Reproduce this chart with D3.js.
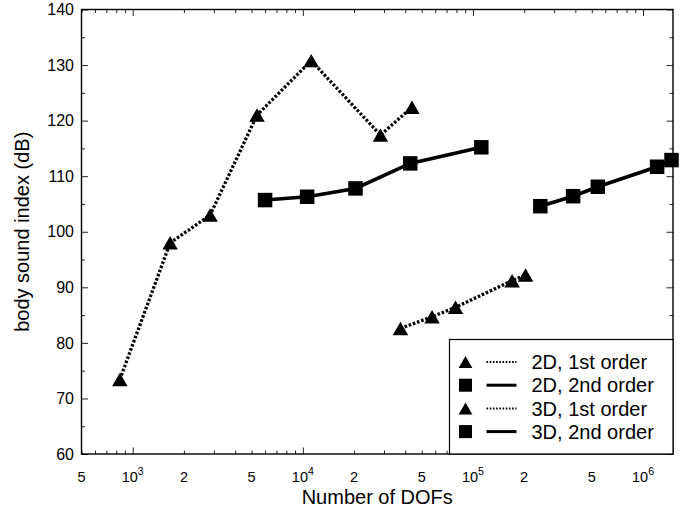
<!DOCTYPE html>
<html>
<head>
<meta charset="utf-8">
<script src="https://cdn.jsdelivr.net/npm/d3@7"></script>
<style>
  body { margin: 0; background: #fff; }
  svg text { font-family: "Liberation Sans", Arial, Helvetica, sans-serif; fill: #000; }
</style>
</head>
<body>
<div id="chart"></div>
<script>
// values
var dofs2D1 = [840, 1660, 2850, 5380, 11200, 28600, 43800];
var bsi2D1 = [73.4, 98.0, 103.0, 121.0, 130.8, 117.4, 122.4];

var dofs2D2 = [6000, 10600, 20400, 42800, 112000];
var bsi2D2 = [105.7, 106.3, 107.8, 112.3, 115.2];

var dofs3D1 = [37500, 57500, 79000, 170000, 204000];
var bsi3D1 = [82.6, 84.7, 86.4, 91.2, 92.2];

var dofs3D2 = [249000, 388000, 542000, 1210000, 1470000];
var bsi3D2 = [104.6, 106.4, 108.1, 111.7, 112.9];

var seriesNames = ["2D, 1st order", "2D, 2nd order", "3D, 1st order", "3D, 2nd order"];
var xTickLabels = [500, 1000, 2000, 5000, 10000, 20000, 50000, 100000, 200000, 500000, 1000000];
var yTickValues = [60, 70, 80, 90, 100, 110, 120, 130, 140];

var width = 682;
var height = 514;
var margin = {
    left: 81.5,
    right: 9,
    top: 9.5,
    bottom: 60
};
var innerW = width - margin.left - margin.right;
var innerH = height - margin.top - margin.bottom;

var xScale = d3.scaleLog()
    .domain([500, 1.5e6])
    .range([0, innerW]);
var yScale = d3.scaleLinear()
    .domain([60, 140])
    .range([innerH, 0]);

// triangle centred on its bounding box, like the plotting package does
var boxTriangle = {
    draw: function (context, size) {
        var s = Math.sqrt(size);
        var h = s * 0.87;
        context.moveTo(0, -h / 2);
        context.lineTo(s / 2, h / 2);
        context.lineTo(-s / 2, h / 2);
        context.closePath();
    }
};

var series = [
    { name: seriesNames[0], xs: dofs2D1, ys: bsi2D1, marker: boxTriangle, size: 240, dotted: true },
    { name: seriesNames[1], xs: dofs2D2, ys: bsi2D2, marker: d3.symbolSquare, size: 210, dotted: false },
    { name: seriesNames[2], xs: dofs3D1, ys: bsi3D1, marker: boxTriangle, size: 240, dotted: true },
    { name: seriesNames[3], xs: dofs3D2, ys: bsi3D2, marker: d3.symbolSquare, size: 210, dotted: false }
];

var svg = d3.select("#chart").append("svg")
    .attr("width", width)
    .attr("height", height);

var chartGroup = svg.append("g")
    .attr("transform", "translate(" + margin.left + "," + margin.top + ")");

// minor ticks
var xMinor = [];
[100, 1000, 10000, 100000, 1000000].forEach(function (dec) {
    for (var k = 2; k <= 9; k++) {
        var v = k * dec;
        if (v >= 500 && v <= 1.5e6) xMinor.push(v);
    }
});
var yMinor = d3.range(65, 140, 10);

function noLabel() { return ""; }

chartGroup.append("g")
    .attr("class", "axis x minor")
    .attr("transform", "translate(0," + innerH + ")")
    .call(d3.axisBottom(xScale).tickValues(xMinor).tickSize(-3.5).tickSizeOuter(0).tickFormat(noLabel));
chartGroup.append("g")
    .attr("class", "axis x minor top")
    .call(d3.axisTop(xScale).tickValues(xMinor).tickSize(-3.5).tickSizeOuter(0).tickFormat(noLabel));
chartGroup.append("g")
    .attr("class", "axis y minor")
    .call(d3.axisLeft(yScale).tickValues(yMinor).tickSize(-3.5).tickSizeOuter(0).tickFormat(noLabel));
chartGroup.append("g")
    .attr("class", "axis y minor right")
    .attr("transform", "translate(" + innerW + ",0)")
    .call(d3.axisRight(yScale).tickValues(yMinor).tickSize(-3.5).tickSizeOuter(0).tickFormat(noLabel));

// major ticks + labels
var xAxis = d3.axisBottom(xScale)
    .tickValues([1000, 10000, 100000, 1000000])
    .tickSize(-6.5)
    .tickSizeOuter(0)
    .tickFormat(noLabel);

chartGroup.append("g")
    .attr("class", "axis x")
    .attr("transform", "translate(0," + innerH + ")")
    .call(xAxis);
chartGroup.append("g")
    .attr("class", "axis x top")
    .call(d3.axisTop(xScale).tickValues([1000, 10000, 100000, 1000000]).tickSize(-6.5).tickSizeOuter(0).tickFormat(noLabel));

var xLabels = chartGroup.append("g")
    .attr("class", "xlabels")
    .attr("transform", "translate(0," + innerH + ")");
xTickLabels.forEach(function (v) {
    var exp = Math.round(Math.log10(v));
    var lead = v / Math.pow(10, Math.floor(Math.log10(v)));
    var t = xLabels.append("text")
        .attr("x", xScale(v))
        .attr("y", 27.5)
        .attr("text-anchor", "middle")
        .style("font-size", "14.5px");
    if (Math.abs(lead - 1) < 1e-9) {
        t.append("tspan").text("10");
        t.append("tspan")
            .attr("dy", -7)
            .style("font-size", "10.5px")
            .text(exp);
    } else {
        t.text(Math.round(lead));
    }
});

chartGroup.append("g")
    .attr("class", "axis y")
    .call(d3.axisLeft(yScale).tickValues(yTickValues).tickSize(-6.5).tickSizeOuter(0).tickPadding(7.5))
    .selectAll("text")
    .style("font-size", "16px");
chartGroup.append("g")
    .attr("class", "axis y right")
    .attr("transform", "translate(" + innerW + ",0)")
    .call(d3.axisRight(yScale).tickValues(yTickValues).tickSize(-6.5).tickSizeOuter(0).tickFormat(noLabel));

chartGroup.selectAll(".axis .domain").remove();
chartGroup.selectAll(".axis line").attr("stroke", "#222").attr("stroke-width", 1);

// frame
chartGroup.append("rect")
    .attr("x", 0)
    .attr("y", 0)
    .attr("width", innerW)
    .attr("height", innerH)
    .attr("fill", "none")
    .attr("stroke", "#000")
    .attr("stroke-width", 1.4);

// lines and markers
var line = d3.line()
    .x(function (d) { return xScale(d[0]); })
    .y(function (d) { return yScale(d[1]); });

series.forEach(function (s, i) {
    var pts = s.xs.map(function (x, j) { return [x, s.ys[j]]; });
    chartGroup.append("path")
        .attr("class", "line" + (i + 1))
        .attr("fill", "none")
        .attr("stroke", "#000")
        .attr("stroke-width", s.dotted ? 3.3 : 3.6)
        .attr("stroke-dasharray", s.dotted ? "2.6,1.8" : null)
        .attr("d", line(pts));
    chartGroup.selectAll(".pt" + i)
        .data(pts)
        .enter().append("path")
        .attr("class", "pt" + i)
        .attr("transform", function (d) { return "translate(" + xScale(d[0]) + "," + yScale(d[1]) + ")"; })
        .attr("fill", "#000")
        .attr("d", d3.symbol().type(s.marker).size(s.size));
});

// legend
var legend = chartGroup.append("g")
    .attr("transform", "translate(" + (449.5 - margin.left) + "," + (339.5 - margin.top) + ")");
legend.append("rect")
    .attr("width", innerW - (449.5 - margin.left))
    .attr("height", innerH - (339.5 - margin.top))
    .attr("fill", "#fff")
    .attr("stroke", "#000")
    .attr("stroke-width", 1.2);
series.forEach(function (s, i) {
    var row = legend.append("g")
        .attr("transform", "translate(0," + (22.5 + i * 23.2) + ")");
    row.append("path")
        .attr("transform", "translate(16,0)")
        .attr("d", d3.symbol().type(s.marker).size(s.marker === boxTriangle ? 190 : 170));
    row.append("line")
        .attr("x1", 37)
        .attr("x2", 67)
        .attr("stroke", "#000")
        .attr("stroke-width", s.dotted ? 2 : 3)
        .attr("stroke-dasharray", s.dotted ? "1.6,1.6" : null);
    row.append("text")
        .attr("x", 82)
        .attr("dy", "0.36em")
        .style("font-size", "20px")
        .text(s.name);
});

// axis titles
svg.append("text")
    .attr("x", margin.left + innerW / 2)
    .attr("y", 504)
    .attr("text-anchor", "middle")
    .style("font-size", "20px")
    .text("Number of DOFs");

svg.append("text")
    .attr("transform", "translate(29," + (margin.top + innerH / 2) + ") rotate(-90)")
    .attr("text-anchor", "middle")
    .style("font-size", "20px")
    .text("body sound index (dB)");
</script>
</body>
</html>
